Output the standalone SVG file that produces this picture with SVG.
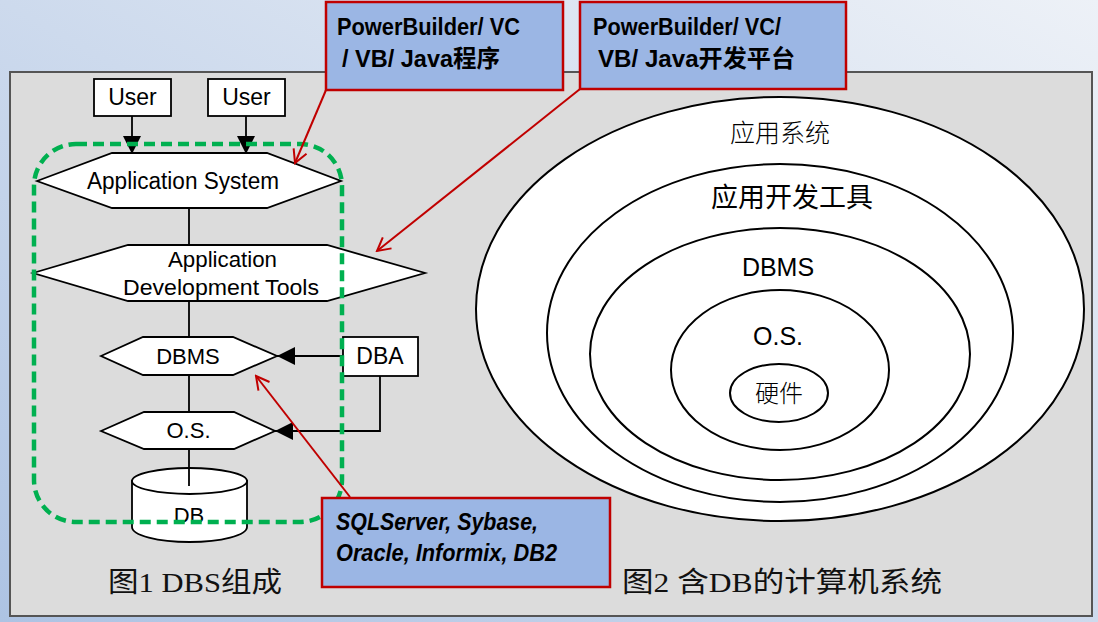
<svg xmlns="http://www.w3.org/2000/svg" width="1098" height="622" viewBox="0 0 1098 622">
<defs>
<linearGradient id="bg" x1="1" y1="0" x2="0" y2="1">
<stop offset="0" stop-color="#edf1f7"/>
<stop offset="1" stop-color="#adc3e3"/>
</linearGradient>
<marker id="tri" viewBox="0 0 18 18" refX="18" refY="9" markerWidth="18" markerHeight="18" markerUnits="userSpaceOnUse" orient="auto">
<path d="M0,0 L18,9 L0,18 Z" fill="#000"/>
</marker>
<marker id="vee" viewBox="0 0 16 16" refX="14" refY="8" markerWidth="16" markerHeight="16" markerUnits="userSpaceOnUse" orient="auto">
<path d="M1,1 L14,8 L1,15" fill="none" stroke="#c00000" stroke-width="2"/>
</marker>
</defs>
<style>
.shape{fill:#fff;stroke:#000;stroke-width:1.8}
.lbl{font-family:"Liberation Sans","Noto Sans CJK SC",sans-serif;fill:#000;text-anchor:middle}
.call{fill:#9bb6e4;stroke:#c00000;stroke-width:2.5}
.ct{font-family:"Liberation Sans","Noto Sans CJK SC",sans-serif;font-weight:bold;font-size:24px;fill:#000}
.conn{fill:none;stroke:#000;stroke-width:1.8}
.red{fill:none;stroke:#c00000;stroke-width:2}
.ring{fill:#fff;stroke:#000;stroke-width:2}
.cap{font-family:"Liberation Serif","Noto Sans CJK SC",serif;font-size:28px;fill:#111}
.cjk{font-family:"Liberation Sans","Noto Sans CJK SC",sans-serif;fill:#000;text-anchor:middle}
</style>
<rect x="0" y="0" width="1098" height="622" fill="url(#bg)"/>
<rect id="panel" x="10" y="72" width="1082" height="544" fill="#dcdcdc" stroke="#555" stroke-width="2"/>

<!-- Right figure: nested ellipses -->
<g id="ring-app">
<ellipse class="ring" cx="780" cy="309" rx="304" ry="212"/>
<text class="cjk" x="780" y="142" font-size="25" font-weight="300" fill="#222">应用系统</text>
</g>
<g id="ring-adt">
<ellipse class="ring" cx="780" cy="333" rx="233" ry="169"/>
<text class="cjk" x="792" y="207" font-size="27">应用开发工具</text>
</g>
<g id="ring-dbms">
<ellipse class="ring" cx="780" cy="354" rx="190" ry="126"/>
<text class="lbl" x="778" y="276" font-size="25">DBMS</text>
</g>
<g id="ring-os">
<ellipse class="ring" cx="780" cy="370" rx="109" ry="80"/>
<text class="lbl" x="778" y="345" font-size="25">O.S.</text>
</g>
<g id="ring-hw">
<ellipse class="ring" cx="779" cy="393" rx="49" ry="29"/>
<text class="cjk" x="779" y="402" font-size="24" font-weight="300">硬件</text>
</g>

<!-- Left figure nodes -->
<g id="user1">
<rect class="shape" x="94" y="79" width="77" height="37"/>
<text class="lbl" x="132.5" y="105" font-size="23">User</text>
</g>
<g id="user2">
<rect class="shape" x="208" y="79" width="77" height="37"/>
<text class="lbl" x="246.5" y="105" font-size="23">User</text>
</g>
<g id="app-system">
<polygon class="shape" points="37,181 112,153 267,153 341,181 267,208 112,208"/>
<text class="lbl" x="183" y="189" font-size="23" textLength="192" lengthAdjust="spacingAndGlyphs">Application System</text>
</g>
<g id="adt">
<polygon class="shape" points="33,273 128,245 327,245 425,273 327,301 128,301"/>
<text class="lbl" x="222.5" y="267" font-size="22" textLength="109" lengthAdjust="spacingAndGlyphs">Application</text>
<text class="lbl" x="221" y="295" font-size="22" textLength="196" lengthAdjust="spacingAndGlyphs">Development Tools</text>
</g>
<g id="dbms">
<polygon class="shape" points="101,356 143,337 233,337 277,356 233,375 143,375"/>
<text class="lbl" x="188" y="364" font-size="22">DBMS</text>
</g>
<g id="dba">
<rect class="shape" x="343" y="337" width="75" height="39"/>
<text class="lbl" x="380" y="364" font-size="23">DBA</text>
</g>
<g id="os">
<polygon class="shape" points="101,431 144,412 234,412 275,431 234,449 144,449"/>
<text class="lbl" x="188.5" y="438" font-size="22">O.S.</text>
</g>
<g id="db">
<path class="shape" d="M132,481 L132,527 A57.5,15 0 0 0 247,527 L247,481 Z"/>
<ellipse class="shape" cx="189.5" cy="481" rx="57.5" ry="13"/>
<text class="lbl" x="189" y="523" font-size="22">DB</text>
</g>

<!-- Connectors -->
<g id="connectors">
<line class="conn" x1="132" y1="116" x2="132" y2="154" marker-end="url(#tri)"/>
<line class="conn" x1="246" y1="116" x2="246" y2="154" marker-end="url(#tri)"/>
<line class="conn" x1="189" y1="208" x2="189" y2="245"/>
<line class="conn" x1="189" y1="301" x2="189" y2="337"/>
<line class="conn" x1="189" y1="375" x2="189" y2="412"/>
<line class="conn" x1="189" y1="449" x2="189" y2="486"/>
<line class="conn" x1="343" y1="356" x2="277" y2="356" marker-end="url(#tri)"/>
<polyline class="conn" points="380,376 380,431 275,431" marker-end="url(#tri)"/>
</g>

<!-- DBS boundary -->
<rect id="dbs-boundary" x="34" y="144" width="308" height="378" rx="42" ry="42" fill="none" stroke="#00b050" stroke-width="4.5" stroke-dasharray="11 6"/>

<!-- Callouts -->
<g id="callout-program">
<rect class="call" x="326" y="2" width="237" height="88"/>
<text class="ct" x="337" y="35" textLength="183" lengthAdjust="spacingAndGlyphs">PowerBuilder/ VC</text>
<text class="ct" x="342" y="67" textLength="158" lengthAdjust="spacingAndGlyphs">/ VB/ Java程序</text>
</g>
<g id="callout-platform">
<rect class="call" x="580" y="2" width="266" height="87"/>
<text class="ct" x="593" y="35" textLength="188" lengthAdjust="spacingAndGlyphs">PowerBuilder/ VC/</text>
<text class="ct" x="598" y="67" textLength="197" lengthAdjust="spacingAndGlyphs">VB/ Java开发平台</text>
</g>
<g id="callout-dbms">
<rect class="call" x="322" y="498" width="288" height="89"/>
<text class="ct" x="336" y="530" font-style="italic" textLength="202" lengthAdjust="spacingAndGlyphs">SQLServer, Sybase,</text>
<text class="ct" x="336" y="561" font-style="italic" textLength="221" lengthAdjust="spacingAndGlyphs">Oracle, Informix, DB2</text>
</g>
<g id="callout-arrows">
<line class="red" x1="326" y1="90" x2="295" y2="163" marker-end="url(#vee)"/>
<line class="red" x1="580" y1="89" x2="377" y2="251" marker-end="url(#vee)"/>
<line class="red" x1="350" y1="497" x2="256" y2="376" marker-end="url(#vee)"/>
</g>

<!-- Captions -->
<text id="caption1" class="cap" x="108" y="592" textLength="174" lengthAdjust="spacingAndGlyphs">图1 DBS组成</text>
<text id="caption2" class="cap" x="622" y="592" textLength="320" lengthAdjust="spacingAndGlyphs">图2 含DB的计算机系统</text>
</svg>
